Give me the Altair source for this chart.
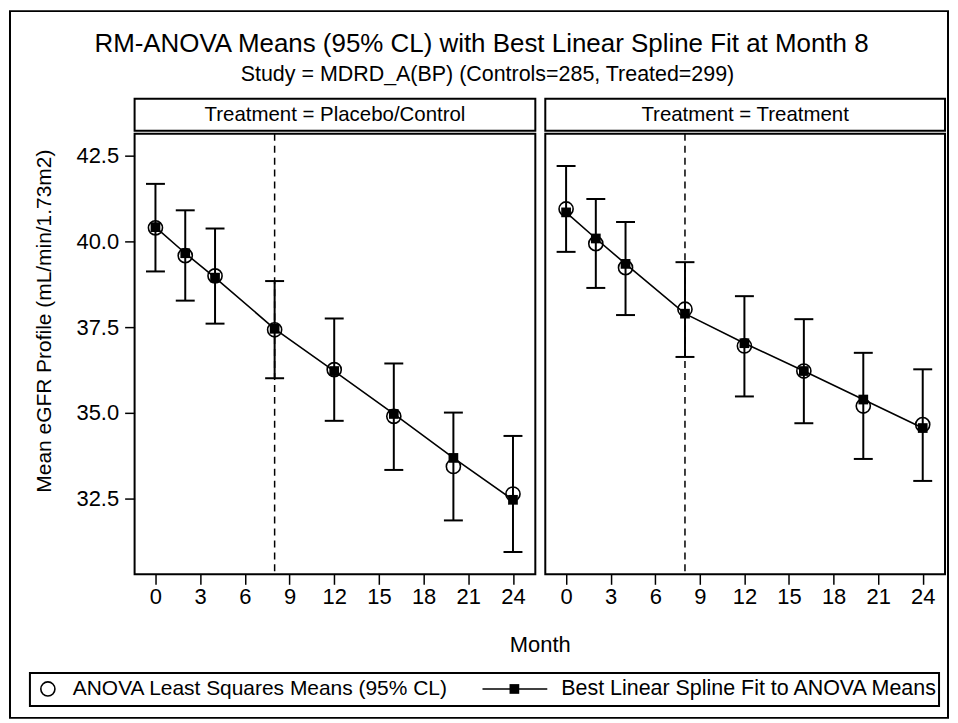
import altair as alt
import pandas as pd

# ---- data ----
months = [0, 2, 4, 8, 12, 16, 20, 24]

ctrl_mean = [40.39, 39.58, 38.99, 37.42, 36.26, 34.90, 33.44, 32.64]
ctrl_lo   = [39.12, 38.27, 37.60, 36.01, 34.77, 33.34, 31.87, 30.95]
ctrl_hi   = [41.67, 40.90, 40.37, 38.84, 37.75, 36.44, 35.01, 34.33]
ctrl_fit  = [40.41, 39.65, 38.94, 37.45, 36.22, 34.97, 33.69, 32.47]

trt_mean = [40.94, 39.93, 39.23, 38.02, 36.95, 36.22, 35.20, 34.66]
trt_lo   = [39.69, 38.64, 37.85, 36.63, 35.48, 34.70, 33.66, 33.02]
trt_hi   = [42.19, 41.23, 40.56, 39.39, 38.40, 37.73, 36.75, 36.27]
trt_fit  = [40.84, 40.08, 39.34, 37.89, 37.03, 36.22, 35.39, 34.56]

knot = [8]
x_ticks = [0, 3, 6, 9, 12, 15, 18, 21, 24]
y_ticks = [32.5, 35.0, 37.5, 40.0, 42.5]
panel_labels = ["Treatment = Placebo/Control", "Treatment = Treatment"]
title_text = "RM-ANOVA Means (95% CL) with Best Linear Spline Fit at Month 8"
subtitle_text = "Study = MDRD_A(BP) (Controls=285, Treated=299)"
y_title = "Mean eGFR Profile (mL/min/1.73m2)"
x_title = "Month"
legend_labels = ["ANOVA Least Squares Means (95% CL)", "Best Linear Spline Fit to ANOVA Means"]

FONT = "Liberation Sans"
X_DOMAIN = [-1.4, 25.5]
Y_DOMAIN = [30.3, 43.13]
H = 442


def panel(mean, lo, hi, fit, label, width, show_y):
    df = pd.DataFrame({"month": months, "mean": mean, "lo": lo, "hi": hi, "fit": fit})
    xs = alt.Scale(domain=X_DOMAIN, nice=False, zero=False)
    ys = alt.Scale(domain=Y_DOMAIN, nice=False, zero=False)
    xaxis = alt.Axis(values=x_ticks, title=None, domain=False, grid=False,
                     tickSize=10, tickWidth=1.5, tickColor="black",
                     labelFontSize=22, labelFont=FONT, labelColor="black", labelPadding=2)
    if show_y:
        yaxis = alt.Axis(values=y_ticks, format=".1f", title=None, domain=False, grid=False,
                         tickSize=10, tickWidth=1.5, tickColor="black",
                         labelFontSize=22, labelFont=FONT, labelColor="black", labelPadding=6)
    else:
        yaxis = None
    X = alt.X("month:Q", scale=xs, axis=xaxis)
    base = alt.Chart(df)

    ref = alt.Chart(pd.DataFrame({"k": knot})).mark_rule(
        color="black", strokeWidth=1.5, strokeDash=[7, 5]
    ).encode(x=alt.X("k:Q", scale=xs, axis=xaxis))

    bars = base.mark_rule(color="black", strokeWidth=2).encode(
        x=X, y=alt.Y("lo:Q", scale=ys, axis=yaxis), y2="hi:Q")
    cap_lo = base.mark_rule(color="black", strokeWidth=2, xOffset=-9.5, x2Offset=9.5).encode(
        x=X, x2="month:Q", y=alt.Y("lo:Q", scale=ys, axis=yaxis))
    cap_hi = base.mark_rule(color="black", strokeWidth=2, xOffset=-9.5, x2Offset=9.5).encode(
        x=X, x2="month:Q", y=alt.Y("hi:Q", scale=ys, axis=yaxis))
    circ = base.mark_point(shape="circle", filled=False, size=200, color="black",
                           strokeWidth=1.6, opacity=1).encode(
        x=X, y=alt.Y("mean:Q", scale=ys, axis=yaxis))
    line = base.mark_line(color="black", strokeWidth=1.6).encode(
        x=X, y=alt.Y("fit:Q", scale=ys, axis=yaxis))
    sq = base.mark_point(shape="square", filled=True, size=95, color="black", opacity=1).encode(
        x=X, y=alt.Y("fit:Q", scale=ys, axis=yaxis))

    one = alt.Chart(pd.DataFrame({"label": [label]}))
    hdr = one.mark_rect(fill="white", stroke="black", strokeWidth=2).encode(
        x=alt.value(0), x2=alt.value(width), y=alt.value(-35), y2=alt.value(-3))
    hdr_t = one.mark_text(font=FONT, fontSize=20.5, color="black", align="center",
                          baseline="middle").encode(
        x=alt.value(width / 2), y=alt.value(-19), text="label:N")

    layers = [ref, bars, cap_lo, cap_hi, line, circ, sq, hdr, hdr_t]
    return layers


# ---- decorations placed in the left panel's coordinate system ----
def decorations():
    one = alt.Chart(pd.DataFrame({"a": [0]}))
    outer = one.mark_rect(fill=None, stroke="black", strokeWidth=2).encode(
        x=alt.value(-125), x2=alt.value(816), y=alt.value(-123), y2=alt.value(586))
    t1 = alt.Chart(pd.DataFrame({"t": [title_text]})).mark_text(
        font=FONT, fontSize=26, color="black", align="center", baseline="middle").encode(
        x=alt.value(348), y=alt.value(-90), text="t:N")
    t2 = alt.Chart(pd.DataFrame({"t": [subtitle_text]})).mark_text(
        font=FONT, fontSize=21.5, color="black", align="center", baseline="middle").encode(
        x=alt.value(354), y=alt.value(-59), text="t:N")
    yt = alt.Chart(pd.DataFrame({"t": [y_title]})).mark_text(
        font=FONT, fontSize=21, color="black", align="center", baseline="middle", angle=270).encode(
        x=alt.value(-90), y=alt.value(188), text="t:N")
    xt = alt.Chart(pd.DataFrame({"t": [x_title]})).mark_text(
        font=FONT, fontSize=22, color="black", align="center", baseline="middle").encode(
        x=alt.value(407), y=alt.value(513), text="t:N")
    lbox = one.mark_rect(fill="white", stroke="black", strokeWidth=2).encode(
        x=alt.value(-105), x2=alt.value(807), y=alt.value(541), y2=alt.value(574))
    lcirc = one.mark_point(shape="circle", filled=False, size=200, color="black",
                           strokeWidth=1.6, opacity=1).encode(x=alt.value(-87), y=alt.value(557))
    ltxt1 = alt.Chart(pd.DataFrame({"t": [legend_labels[0]]})).mark_text(
        font=FONT, fontSize=21, color="black", align="left", baseline="middle").encode(
        x=alt.value(-62), y=alt.value(557), text="t:N")
    lline = one.mark_rule(color="black", strokeWidth=1.6).encode(
        x=alt.value(349), x2=alt.value(414), y=alt.value(557))
    lsq = one.mark_point(shape="square", filled=True, size=95, color="black", opacity=1).encode(
        x=alt.value(381), y=alt.value(557))
    ltxt2 = alt.Chart(pd.DataFrame({"t": [legend_labels[1]]})).mark_text(
        font=FONT, fontSize=21.5, color="black", align="left", baseline="middle").encode(
        x=alt.value(428), y=alt.value(557), text="t:N")
    return [outer, t1, t2, yt, xt, lbox, lcirc, ltxt1, lline, lsq, ltxt2]


WL, WR = 402, 401
left = alt.layer(*(decorations() + panel(ctrl_mean, ctrl_lo, ctrl_hi, ctrl_fit,
                                         panel_labels[0], WL, True))).properties(width=WL, height=H)
right = alt.layer(*panel(trt_mean, trt_lo, trt_hi, trt_fit,
                         panel_labels[1], WR, False)).properties(width=WR, height=H)

chart = alt.hconcat(left, right, spacing=10, bounds="flush").properties(
    padding=0, background="white"
).configure_view(stroke="black", strokeWidth=2).resolve_scale(x="independent", y="independent")

chart.save("out.html", embed_options={"renderer": "svg", "actions": False})
